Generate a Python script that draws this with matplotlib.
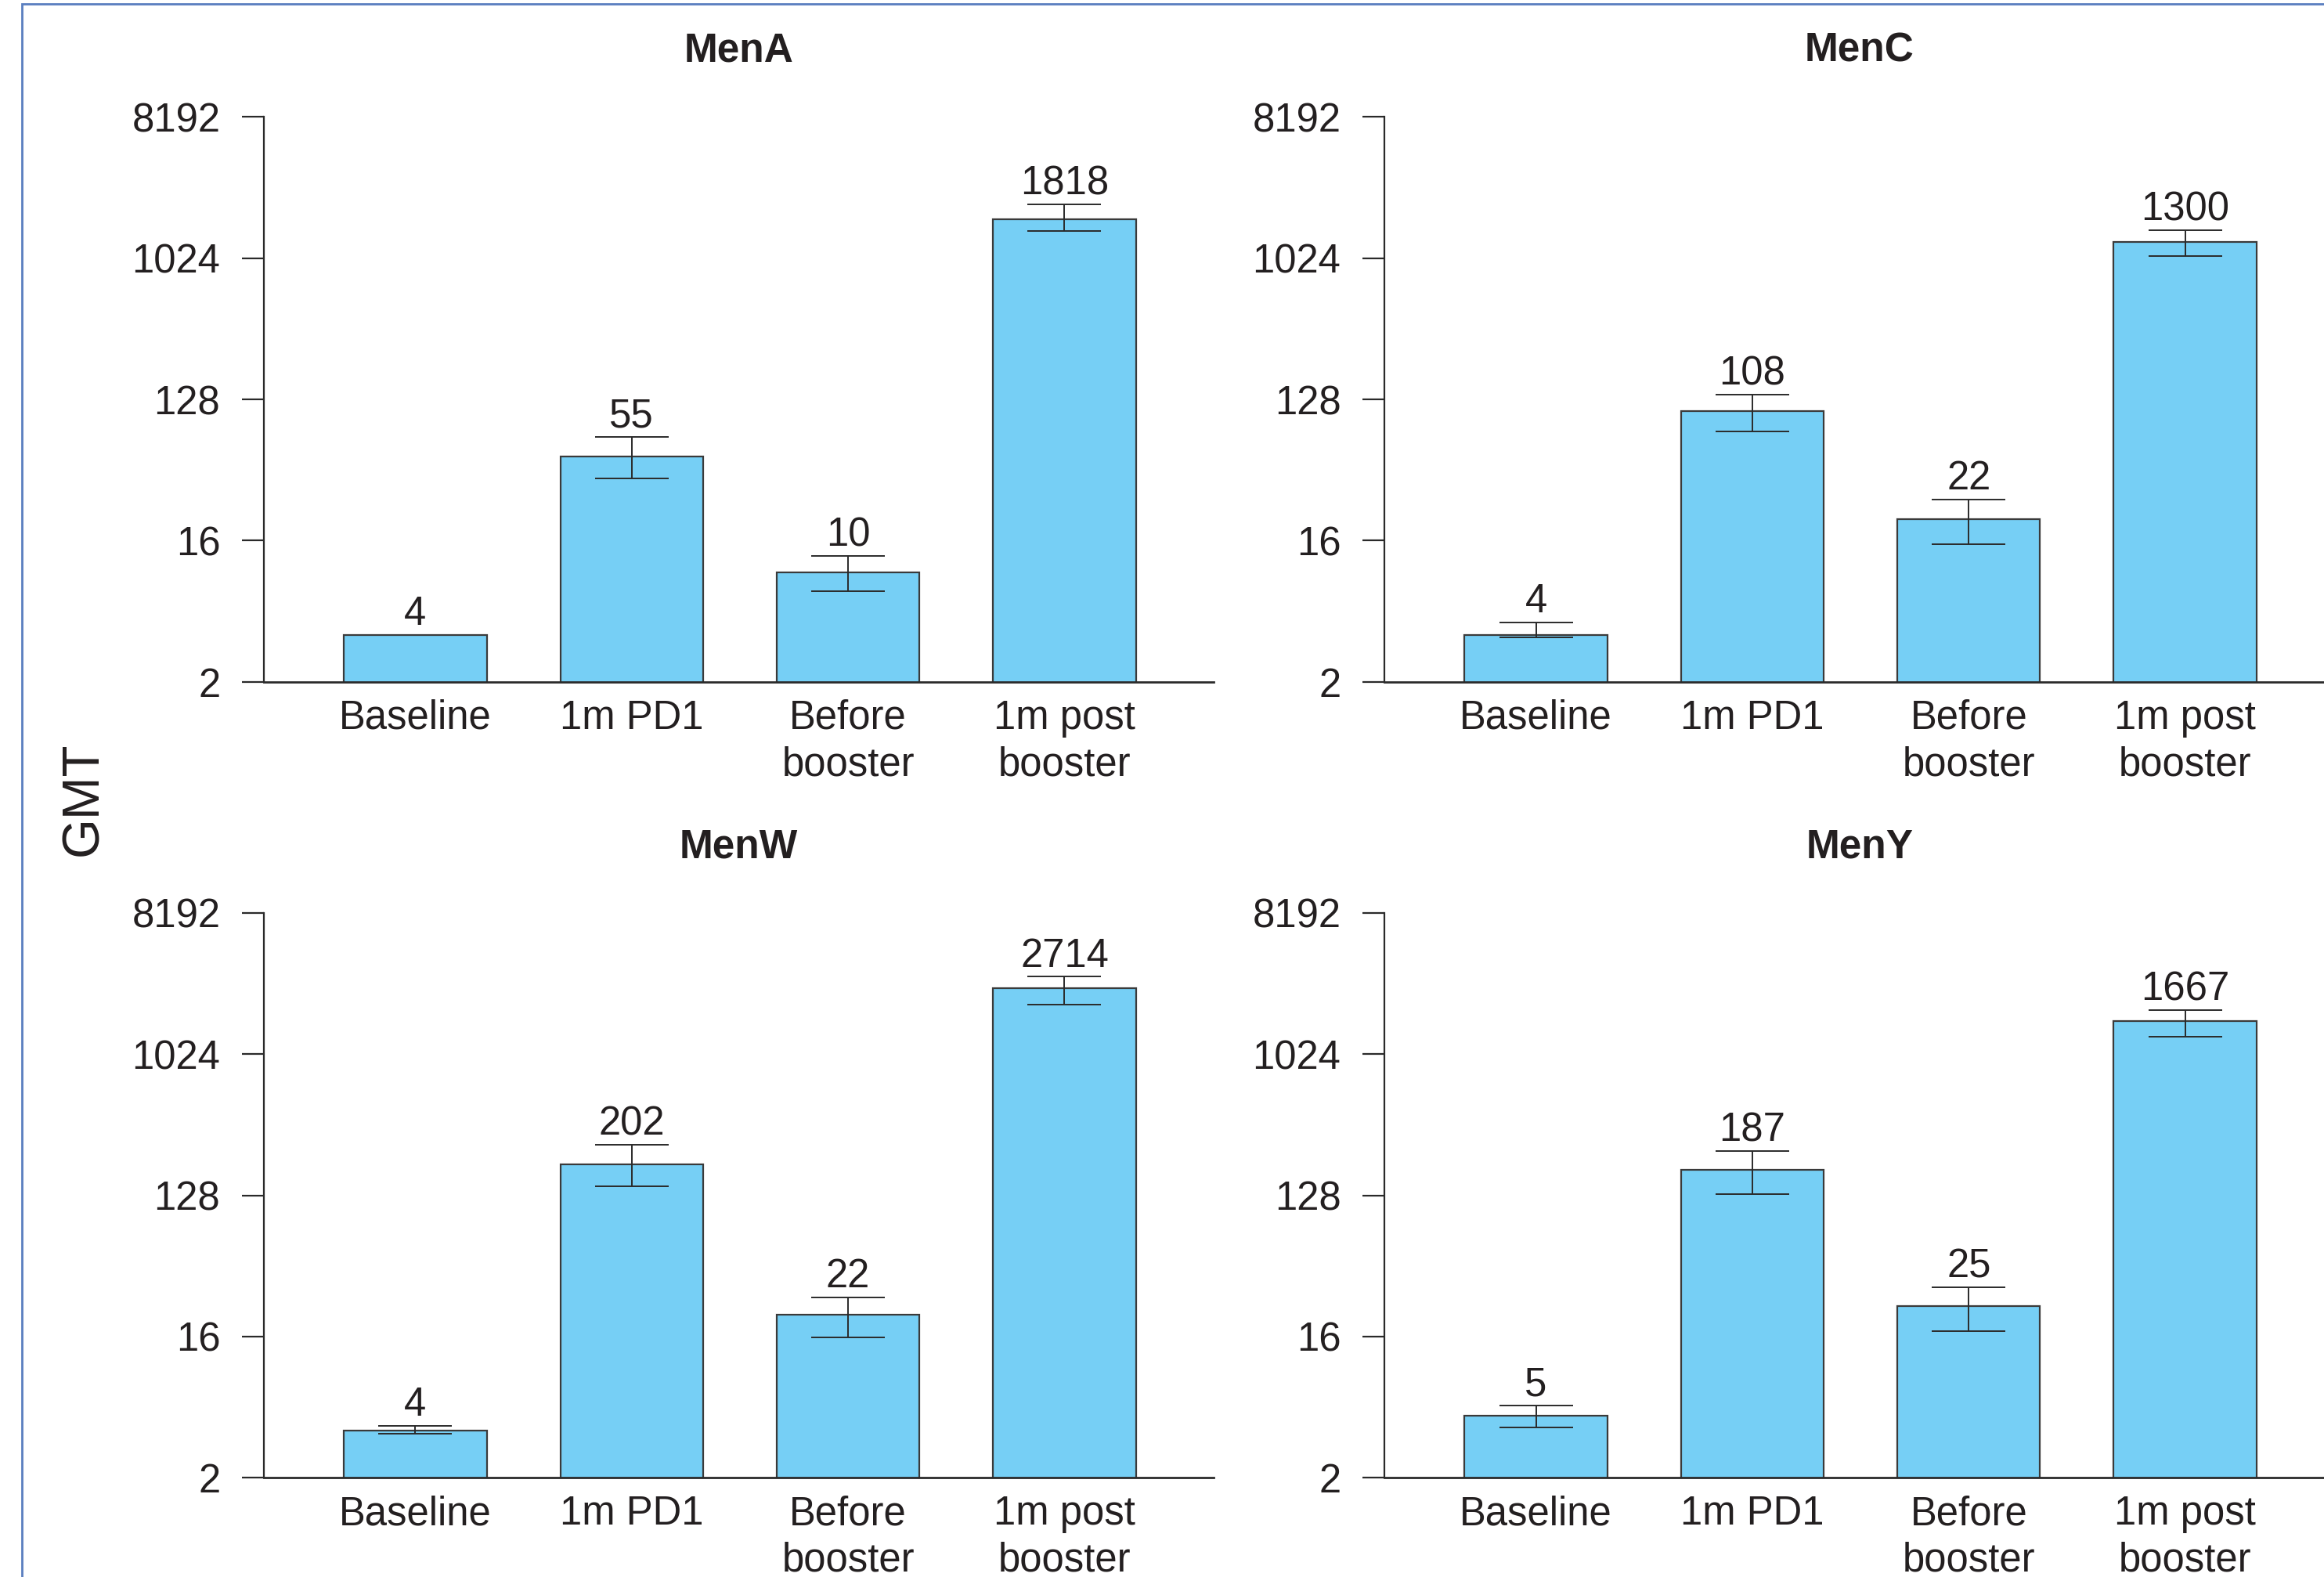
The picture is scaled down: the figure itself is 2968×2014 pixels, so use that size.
import matplotlib
matplotlib.use('Agg')
import matplotlib.pyplot as plt
from matplotlib.patches import Rectangle

plt.rcParams['font.family'] = ['Liberation Sans', 'DejaVu Sans']

# data (GMT with 95% CI)
categories = ['Baseline', '1m PD1', 'Before\nbooster', '1m post\nbooster']
panel_names = ['MenA', 'MenC', 'MenW', 'MenY']

gmt_menA = [4, 55, 10, 1818]
lo_menA = [4, 39.8, 7.6, 1525]
hi_menA = [4, 73.4, 12.8, 2257]

gmt_menC = [4, 108, 22, 1300]
lo_menC = [3.85, 80, 15.2, 1053]
hi_menC = [4.79, 138, 29.3, 1553]

gmt_menW = [4, 202, 22, 2714]
lo_menW = [3.84, 146, 15.8, 2120]
hi_menW = [4.29, 269, 28.5, 3213]

gmt_menY = [5, 187, 25, 1667]
lo_menY = [4.19, 131, 17.3, 1316]
hi_menY = [5.82, 246, 33.1, 1948]

yticks = [2, 16, 128, 1024, 8192]

all_gmt = [gmt_menA, gmt_menC, gmt_menW, gmt_menY]
all_lo = [lo_menA, lo_menC, lo_menW, lo_menY]
all_hi = [hi_menA, hi_menC, hi_menW, hi_menY]

bar_color = '#76CFF5'
text_color = '#231F20'

fig = plt.figure(figsize=(14.84, 10.07), dpi=200)

# axes boxes [left, bottom, width, height] in figure fraction
w = 0.4088
h = 0.3581
boxes = [[0.1135, 0.5677, w, h], [0.5957, 0.5677, w, h],
         [0.1135, 0.0630, w, h], [0.5957, 0.0630, w, h]]

x = list(range(len(categories)))

for k in range(4):
    ax = fig.add_axes(boxes[k])
    vals = all_gmt[k]
    lo = all_lo[k]
    hi = all_hi[k]
    ax.bar(x, vals, width=0.66, color=bar_color, edgecolor='#3a3a3a', linewidth=0.8, zorder=2)
    for i in range(len(x)):
        if hi[i] > lo[i]:
            ax.errorbar(x[i], vals[i], yerr=[[vals[i] - lo[i]], [hi[i] - vals[i]]], fmt='none',
                        ecolor='#2a2a2a', elinewidth=0.7, capsize=17, capthick=0.7, zorder=3)
        ax.annotate(str(vals[i]), (x[i], max(hi[i], vals[i])), xytext=(0, 4.5),
                    textcoords='offset points', ha='center', va='baseline',
                    fontsize=18.3, color=text_color)

    ax.set_yscale('log', base=2)
    ax.set_ylim(2, 8192)
    ax.set_xlim(-0.70, 3.69)
    ax.set_yticks(yticks)
    ax.set_yticklabels([str(t) for t in yticks])
    ax.minorticks_off()
    ax.set_xticks(x)
    ax.set_xticklabels(categories, linespacing=1.28)
    ax.tick_params(axis='x', length=0, pad=8, labelsize=18.3, labelcolor=text_color)
    ax.tick_params(axis='y', length=10, width=0.8, pad=10, labelsize=18.3,
                   labelcolor=text_color, color='#2a2a2a')
    for s in ['top', 'right']:
        ax.spines[s].set_visible(False)
    ax.spines['left'].set_linewidth(0.8)
    ax.spines['bottom'].set_linewidth(1.0)
    ax.spines['left'].set_color('#2a2a2a')
    ax.spines['bottom'].set_color('#2a2a2a')
    ax.set_title(panel_names[k], fontsize=18.5, fontweight='bold', pad=25.5, color=text_color)

fig.text(0.036, 0.4935, 'GMT', rotation=90, ha='center', va='center', fontsize=23.6, color=text_color)

# outer frame of the original figure (cut at right and bottom)
fig.patches.append(Rectangle((28 / 2968, -0.05), 1.1, 1.05 - 5 / 2014, transform=fig.transFigure,
                             fill=False, edgecolor='#5A7EC0', linewidth=1.0))

fig.savefig('out.png', dpi=200)
